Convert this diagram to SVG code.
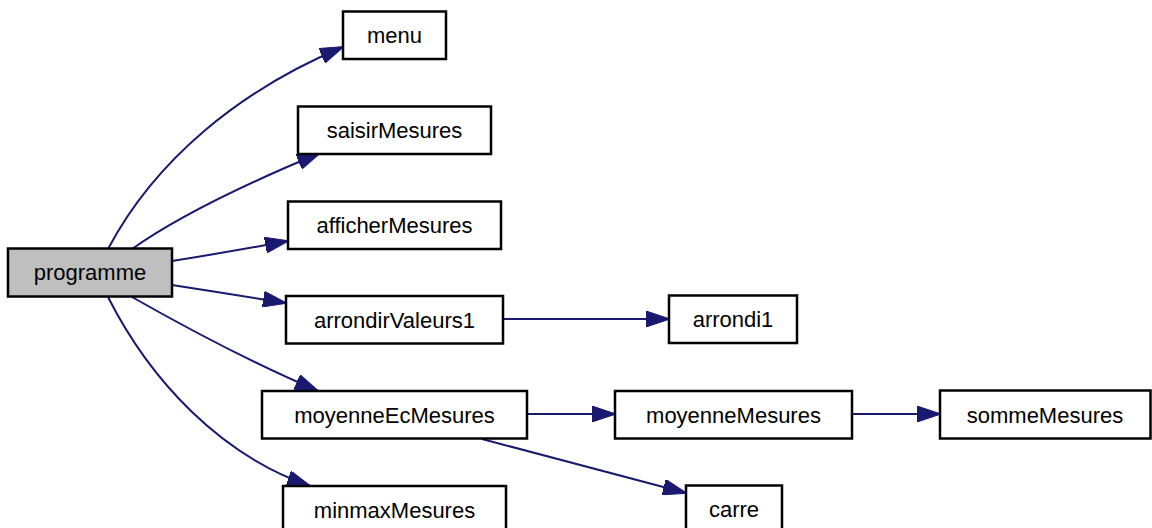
<svg xmlns="http://www.w3.org/2000/svg" width="1152" height="528" viewBox="0 0 1152 528">
  <style>
    .node rect { fill: #ffffff; stroke: #000000; stroke-width: 2.5; }
    .node.root rect { fill: #bfbfbf; }
    .node text { font-family: "Liberation Sans", Arial, sans-serif; font-size: 22px; fill: #000000; text-anchor: middle; }
    .edge { fill: none; stroke: #191970; stroke-width: 2; marker-end: url(#arrow); }
  </style>
  <defs>
    <marker id="arrow" viewBox="0 0 24 16" markerWidth="24" markerHeight="16" refX="23" refY="8" markerUnits="userSpaceOnUse" orient="auto">
      <path d="M0,0 L24,8 L0,16 z" fill="#191970" stroke="#191970" stroke-width="1"/>
    </marker>
  </defs>
  <rect x="0" y="0" width="1152" height="528" fill="#ffffff"/>

  <g id="connectors">
    <path class="edge" d="M108,249 C155,160 240,90 343,47"/>
    <path class="edge" d="M132,249 C180,215 255,180 320,153"/>
    <path class="edge" d="M172,261 C210,255 250,248 288,241"/>
    <path class="edge" d="M172,285 C210,291 250,297 286,303"/>
    <path class="edge" d="M132,297 C190,330 250,362 318,391"/>
    <path class="edge" d="M108,297 C150,380 220,455 310,486"/>
    <path class="edge" d="M503,319 L669,319"/>
    <path class="edge" d="M527,414 L615,414"/>
    <path class="edge" d="M852,414 L940,414"/>
    <path class="edge" d="M482,439 L686,493"/>
  </g>

  <g id="programme" class="node root">
    <rect x="8" y="248.5" width="164" height="48"/>
    <text x="90" y="280">programme</text>
  </g>
  <g id="menu" class="node">
    <rect x="343" y="11.5" width="103" height="47.5"/>
    <text x="394.5" y="43">menu</text>
  </g>
  <g id="saisirMesures" class="node">
    <rect x="298" y="106.5" width="193" height="47.5"/>
    <text x="394.5" y="138">saisirMesures</text>
  </g>
  <g id="afficherMesures" class="node">
    <rect x="288" y="201.5" width="213" height="47.5"/>
    <text x="394.5" y="233">afficherMesures</text>
  </g>
  <g id="arrondirValeurs1" class="node">
    <rect x="286" y="296" width="217" height="47.5"/>
    <text x="394.5" y="327.5">arrondirValeurs1</text>
  </g>
  <g id="moyenneEcMesures" class="node">
    <rect x="262" y="391" width="265" height="47.5"/>
    <text x="394.5" y="422.5">moyenneEcMesures</text>
  </g>
  <g id="minmaxMesures" class="node">
    <rect x="283" y="486" width="223" height="47.5"/>
    <text x="394.5" y="517.5">minmaxMesures</text>
  </g>
  <g id="arrondi1" class="node">
    <rect x="669" y="295.5" width="128" height="47.5"/>
    <text x="733" y="327">arrondi1</text>
  </g>
  <g id="moyenneMesures" class="node">
    <rect x="615" y="391" width="237" height="47.5"/>
    <text x="733.5" y="422.5">moyenneMesures</text>
  </g>
  <g id="sommeMesures" class="node">
    <rect x="940" y="390.5" width="210.5" height="48"/>
    <text x="1045" y="422.5">sommeMesures</text>
  </g>
  <g id="carre" class="node">
    <rect x="686" y="485.5" width="96" height="47.5"/>
    <text x="734" y="517">carre</text>
  </g>
</svg>
